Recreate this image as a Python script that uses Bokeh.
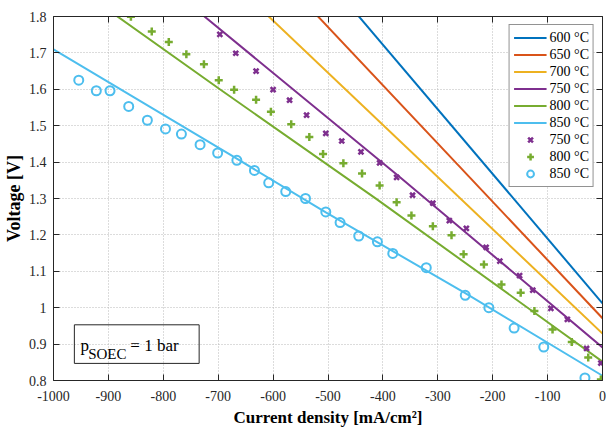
from bokeh.plotting import figure
from bokeh.models import (LinearAxis, FixedTicker, Legend, LegendItem,
                          BoxAnnotation, Label, Range1d, CustomLabelingPolicy)
from bokeh.embed import file_html
from bokeh.resources import INLINE

# ---------------- data ----------------
x_ticks = [-1000, -900, -800, -700, -600, -500, -400, -300, -200, -100, 0]
x_tick_labels = ["-1000", "-900", "-800", "-700", "-600", "-500", "-400",
                 "-300", "-200", "-100", "0"]
y_ticks = [0.8, 0.9, 1.0, 1.1, 1.2, 1.3, 1.4, 1.5, 1.6, 1.7, 1.8]
y_tick_labels = ["0.8", "0.9", "1", "1.1", "1.2", "1.3", "1.4", "1.5",
                 "1.6", "1.7", "1.8"]

# model lines (current density, voltage)
line600_x = [-500, 0]
line600_v = [1.900, 1.012]
line650_x = [-600, 0]
line650_v = [1.931, 0.971]
line700_x = [-700, 0]
line700_v = [1.932, 0.929]
line750_x = [-800, -371, 0]
line750_v = [1.893, 1.361, 0.891]
line800_x = [-1000, -697, -414, 0]
line800_v = [1.925, 1.600, 1.301, 0.852]
line850_x = [-1000, -679, -504, -250, 0]
line850_v = [1.710, 1.421, 1.262, 1.040, 0.813]

# measurements
meas750_x = [-697, -668, -631, -600, -570, -539, -504, -475, -440, -406,
             -375, -346, -309, -279, -248, -212, -187, -151, -127, -94,
             -64, -29, -3]
meas750_v = [1.751, 1.699, 1.650, 1.599, 1.570, 1.529, 1.479, 1.458, 1.428,
             1.398, 1.358, 1.309, 1.287, 1.239, 1.218, 1.166, 1.128, 1.088,
             1.048, 0.998, 0.968, 0.888, 0.848]
meas800_x = [-859, -821, -790, -758, -726, -699, -671, -631, -604, -567,
             -534, -509, -472, -438, -406, -375, -348, -309, -275, -253,
             -216, -184, -149, -124, -91, -56, -26, -3]
meas800_v = [1.799, 1.759, 1.730, 1.696, 1.669, 1.625, 1.599, 1.571, 1.538,
             1.504, 1.469, 1.422, 1.397, 1.369, 1.336, 1.290, 1.253, 1.224,
             1.199, 1.147, 1.119, 1.064, 1.041, 0.991, 0.940, 0.906, 0.863,
             0.803]
meas850_x = [-954, -922, -897, -863, -829, -796, -767, -733, -701, -666,
             -634, -608, -577, -541, -504, -478, -444, -410, -382, -321,
             -250, -207, -161, -107, -32]
meas850_v = [1.625, 1.596, 1.596, 1.553, 1.515, 1.491, 1.477, 1.448, 1.425,
             1.405, 1.377, 1.343, 1.319, 1.300, 1.263, 1.234, 1.197, 1.181,
             1.149, 1.110, 1.034, 1.000, 0.944, 0.892, 0.807]

line_labels = ["600 °C", "650 °C", "700 °C", "750 °C", "800 °C", "850 °C"]
meas_labels = ["750 °C", "800 °C", "850 °C"]

C600, C650, C700 = "#0072BD", "#D95319", "#EDB120"
C750, C800, C850 = "#7E2F8E", "#77AC30", "#4DBEEE"

FONT = "Liberation Serif"
AX = "#262626"

p = figure(width=606, height=432,
           x_range=Range1d(-1000, 0), y_range=Range1d(0.8, 1.8),
           output_backend="svg", toolbar_location=None,
           min_border_left=53, min_border_top=16, min_border_right=2,
           min_border_bottom=52, background_fill_color="white",
           border_fill_color="white")
p.outline_line_color = None

xt = FixedTicker(ticks=x_ticks)
yt = FixedTicker(ticks=y_ticks)


def style_axis(ax, size="14px"):
    ax.major_tick_in = 6
    ax.major_tick_out = 0
    ax.minor_tick_in = 0
    ax.minor_tick_out = 0
    ax.axis_line_color = AX
    ax.axis_line_width = 1
    ax.major_tick_line_color = AX
    ax.major_label_text_font = FONT
    ax.major_label_text_color = AX
    ax.major_label_text_font_size = size


p.xaxis.ticker = xt
p.yaxis.ticker = yt
p.xaxis.major_label_overrides = {t: l for t, l in zip(x_ticks, x_tick_labels)}
p.yaxis.major_label_overrides = {t: l for t, l in zip(y_ticks, y_tick_labels)}
style_axis(p.xaxis[0])
style_axis(p.yaxis[0])
p.xaxis.major_label_standoff = 10
p.yaxis.major_label_standoff = 7
p.xaxis.axis_label = "Current density [mA/cm²]"
p.yaxis.axis_label = "Voltage [V]"
for ax in (p.xaxis[0], p.yaxis[0]):
    ax.axis_label_text_font = FONT
    ax.axis_label_text_font_style = "bold"
    ax.axis_label_text_color = "black"
p.xaxis.axis_label_text_font_size = "17px"
p.yaxis.axis_label_text_font_size = "18px"
p.xaxis.axis_label_standoff = 4
p.yaxis.axis_label_standoff = 2

# box axes (inner ticks only, no labels)
right_ax = LinearAxis(ticker=FixedTicker(ticks=y_ticks),
                      major_label_policy=CustomLabelingPolicy(code="return new Set()"))
style_axis(right_ax, "1px")
right_ax.major_label_standoff = 0
p.add_layout(right_ax, "right")
top_ax = LinearAxis(ticker=FixedTicker(ticks=x_ticks),
                    major_label_policy=CustomLabelingPolicy(code="return new Set()"))
style_axis(top_ax, "1px")
top_ax.major_label_standoff = 0
p.add_layout(top_ax, "above")

for g in (p.xgrid[0], p.ygrid[0]):
    g.grid_line_color = "#b9b9b9"
    g.grid_line_dash = "1 2"
    g.grid_line_width = 1
p.xgrid.ticker = xt
p.ygrid.ticker = yt

lw = 2
r600 = p.line(line600_x, line600_v, line_color=C600, line_width=lw)
r650 = p.line(line650_x, line650_v, line_color=C650, line_width=lw)
r700 = p.line(line700_x, line700_v, line_color=C700, line_width=lw)
r750 = p.line(line750_x, line750_v, line_color=C750, line_width=lw)
r800 = p.line(line800_x, line800_v, line_color=C800, line_width=lw)
r850 = p.line(line850_x, line850_v, line_color=C850, line_width=lw)

m750 = p.scatter(meas750_x, meas750_v, marker="x", size=7,
                 line_color=C750, line_width=2.5)
m800 = p.scatter(meas800_x, meas800_v, marker="cross", size=8,
                 line_color=C800, line_width=2.5)
m850 = p.scatter(meas850_x, meas850_v, marker="circle", size=9,
                 line_color=C850, fill_color=None, line_width=2)

items = [LegendItem(label=l, renderers=[r]) for l, r in
         zip(line_labels, [r600, r650, r700, r750, r800, r850])]
items += [LegendItem(label=l, renderers=[r]) for l, r in
          zip(meas_labels, [m750, m800, m850])]
legend = Legend(items=items, location="top_right",
                label_text_font=FONT, label_text_font_size="14px",
                label_text_color="black",
                glyph_width=33, glyph_height=17, label_height=17,
                spacing=0, padding=4, margin=8, label_standoff=3,
                border_line_color=AX, border_line_width=1,
                background_fill_color="white", background_fill_alpha=1)
p.add_layout(legend)

box = BoxAnnotation(left=-962, right=-734.7, top=0.953, bottom=0.847,
                    line_color=AX, line_width=1, fill_alpha=0,
                    line_alpha=1)
p.add_layout(box)
p.add_layout(Label(x=-950.6, y=0.8948, text="p", text_font=FONT,
                   text_font_size="17px", text_color="black",
                   text_baseline="alphabetic"))
p.add_layout(Label(x=-936.9, y=0.8716, text="SOEC", text_font=FONT,
                   text_font_size="15px", text_color="black",
                   text_baseline="alphabetic"))
p.add_layout(Label(x=-860.1, y=0.8948, text="= 1 bar", text_font=FONT,
                   text_font_size="17px", text_color="black",
                   text_baseline="alphabetic"))

open("out.html", "w").write(file_html(p, INLINE))
